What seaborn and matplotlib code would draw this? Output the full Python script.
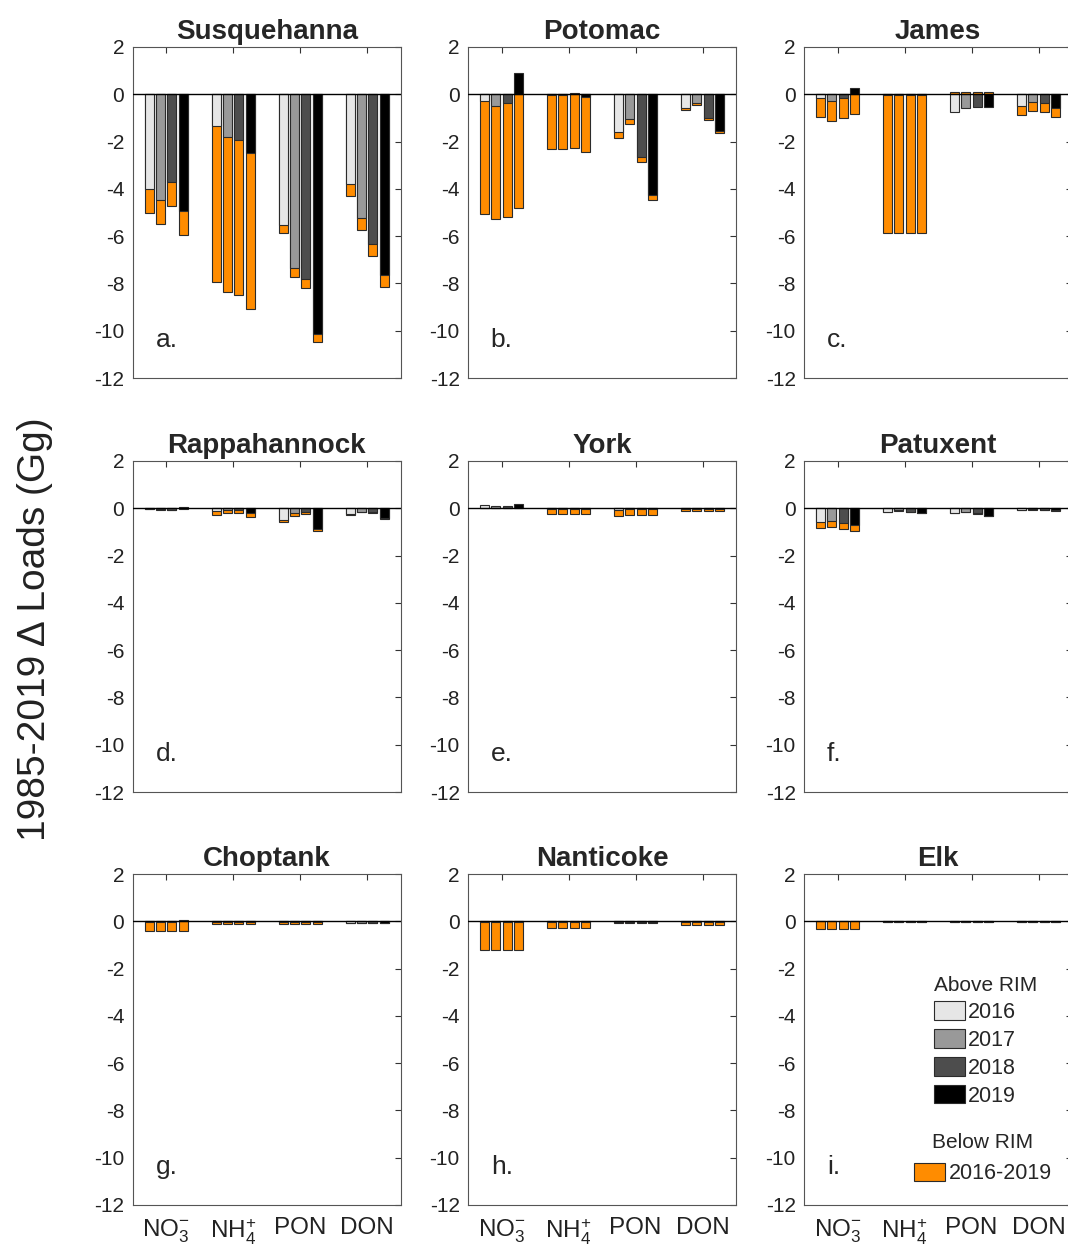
import numpy as np
import pandas as pd
import matplotlib
matplotlib.use("Agg")
import matplotlib.pyplot as plt
import seaborn as sns
from matplotlib.patches import Patch

sns.set_style("white")
plt.rcParams["font.family"] = ["Liberation Sans", "DejaVu Sans"]
plt.rcParams["mathtext.fontset"] = "custom"
plt.rcParams["mathtext.rm"] = "Liberation Sans"
plt.rcParams["mathtext.it"] = "Liberation Sans:italic"
plt.rcParams["mathtext.bf"] = "Liberation Sans:bold"
plt.rcParams["axes.unicode_minus"] = False

# ---------------- data ----------------
species = ["NO$_3^{-}$", "NH$_4^{+}$", "PON", "DON"]
years = ["2016", "2017", "2018", "2019"]
rivers = ["Susquehanna", "Potomac", "James", "Rappahannock", "York",
          "Patuxent", "Choptank", "Nanticoke", "Elk"]
letters = ["a.", "b.", "c.", "d.", "e.", "f.", "g.", "h.", "i."]

# Above-RIM change per species (rows) and year (cols), Gg
susquehanna_above = [[-4.00, -4.46, -3.69, -4.93],
                     [-1.34, -1.79, -1.93, -2.49],
                     [-5.52, -7.35, -7.82, -10.13],
                     [-3.80, -5.24, -6.34, -7.63]]
potomac_above = [[-0.28, -0.49, -0.38, 0.92],
                 [-0.03, -0.02, 0.07, -0.13],
                 [-1.61, -1.04, -2.66, -4.27],
                 [-0.59, -0.38, -0.99, -1.55]]
james_above = [[-0.14, -0.27, -0.17, 0.25],
               [-0.05, -0.05, -0.05, -0.05],
               [-0.73, -0.59, -0.52, -0.52],
               [-0.48, -0.32, -0.38, -0.56]]
rappahannock_above = [[-0.03, -0.05, -0.06, 0.06],
                      [-0.12, -0.06, -0.07, -0.20],
                      [-0.50, -0.21, -0.16, -0.87],
                      [-0.24, -0.14, -0.17, -0.42]]
york_above = [[0.14, 0.10, 0.09, 0.20],
              [-0.02, -0.02, -0.02, -0.02],
              [-0.09, -0.05, -0.05, -0.05],
              [-0.03, -0.03, -0.03, -0.03]]
patuxent_above = [[-0.57, -0.54, -0.61, -0.71],
                  [-0.14, -0.09, -0.14, -0.18],
                  [-0.20, -0.15, -0.22, -0.33],
                  [-0.07, -0.05, -0.07, -0.09]]
choptank_above = [[-0.01, -0.01, -0.01, 0.04],
                  [-0.02, -0.02, -0.02, -0.02],
                  [-0.04, -0.04, -0.04, -0.04],
                  [-0.06, -0.06, -0.06, -0.06]]
nanticoke_above = [[-0.01, -0.01, -0.01, -0.01],
                   [-0.01, -0.01, -0.01, -0.01],
                   [-0.05, -0.05, -0.05, -0.05],
                   [-0.02, -0.02, -0.02, -0.02]]
elk_above = [[-0.005, -0.005, -0.005, -0.005],
             [-0.03, -0.03, -0.03, -0.03],
             [-0.02, -0.02, -0.02, -0.02],
             [-0.03, -0.03, -0.03, -0.03]]

# Below-RIM change (2016-2019), one value per species, Gg
susquehanna_below = [-1.03, -6.58, -0.36, -0.52]
potomac_below = [-4.80, -2.29, -0.22, -0.09]
james_below = [-0.84, -5.80, 0.08, -0.38]
rappahannock_below = [-0.01, -0.15, -0.10, -0.03]
york_below = [0.0, -0.24, -0.25, -0.07]
patuxent_below = [-0.25, -0.02, -0.01, -0.01]
choptank_below = [-0.40, -0.08, -0.06, -0.02]
nanticoke_below = [-1.19, -0.26, -0.03, -0.12]
elk_below = [-0.33, -0.01, -0.01, -0.01]

above_all = [susquehanna_above, potomac_above, james_above, rappahannock_above,
             york_above, patuxent_above, choptank_above, nanticoke_above, elk_above]
below_all = [susquehanna_below, potomac_below, james_below, rappahannock_below,
             york_below, patuxent_below, choptank_below, nanticoke_below, elk_below]

# ---------------- style ----------------
gray_cols = ["#e6e6e6", "#999999", "#4d4d4d", "#000000"]
orange = "#ff8c00"
edge = "#2b2b2b"
W, H = 1068, 1259
fig = plt.figure(figsize=(W / 100, H / 100), dpi=100)

lefts = [132.7, 468, 804]
tops = [47, 461, 874]
aw, ah = 268, 331

for k, river in enumerate(rivers):
    r, c = divmod(k, 3)
    ax = fig.add_axes([lefts[c] / W, 1 - (tops[r] + ah) / H, aw / W, ah / H])
    above = np.array(above_all[k], dtype=float)
    below = np.repeat(np.array(below_all[k], dtype=float)[:, None], 4, axis=1)
    same = (np.sign(above) == np.sign(below)) | (above == 0)
    outer = np.where(same, above + below, below)
    rows = []
    for i, sp in enumerate(species):
        for j, yr in enumerate(years):
            rows.append({"species": sp, "year": yr,
                         "above": above[i, j], "outer": outer[i, j]})
    df = pd.DataFrame(rows)
    common = dict(data=df, x="species", hue="year", order=species,
                  hue_order=years, width=0.67, gap=0.2, errorbar=None,
                  legend=False, ax=ax, edgecolor=edge, linewidth=0.8,
                  saturation=1)
    sns.barplot(y="outer", palette=[orange] * 4, **common)
    sns.barplot(y="above", palette=gray_cols, **common)

    ax.axhline(0, color="black", lw=1.0, zorder=5)
    ax.set_xlim(-0.5, 3.5)
    ax.set_ylim(-12, 2)
    ax.set_yticks(np.arange(-12, 3, 2))
    ax.set_xlabel("")
    ax.set_ylabel("")
    ax.tick_params(direction="in", top=True, right=True, length=4,
                   width=0.8, colors="#333333", labelcolor="#222222",
                   labelsize=15, pad=6)
    if r < 2:
        ax.set_xticklabels([])
    else:
        ax.tick_params(axis="x", pad=9, labelsize=17.5)
    for s in ax.spines.values():
        s.set_color("#555555")
        s.set_linewidth(0.8)
    ax.set_title(river, fontsize=20, fontweight="bold", pad=6)
    ax.text(0.085, 0.115, letters[k], transform=ax.transAxes,
            fontsize=19, va="center", ha="left")

    if k == 8:
        h1 = [Patch(facecolor=g, edgecolor=edge, linewidth=0.8) for g in gray_cols]
        leg1 = ax.legend(h1, years, title="Above RIM", loc="upper left",
                         bbox_to_anchor=(0.42, 0.743), frameon=False,
                         fontsize=15.5, title_fontsize=15, handlelength=1.45,
                         handleheight=0.95, handletextpad=0.15,
                         labelspacing=0.285, alignment="left", borderpad=0.3)
        ax.add_artist(leg1)
        h2 = [Patch(facecolor=orange, edgecolor=edge, linewidth=0.8)]
        ax.legend(h2, ["2016-2019"], title="Below RIM", loc="upper center",
                  bbox_to_anchor=(0.668, 0.27), frameon=False,
                  fontsize=15.5, title_fontsize=15, handlelength=1.45,
                  handleheight=0.95, handletextpad=0.15, borderpad=0.3)

fig.text(0.033, 0.5, "1985-2019 \u0394 Loads (Gg)", rotation=90,
         fontsize=28, va="center", ha="center", color="#222222")

fig.savefig("out.png", dpi=100)
